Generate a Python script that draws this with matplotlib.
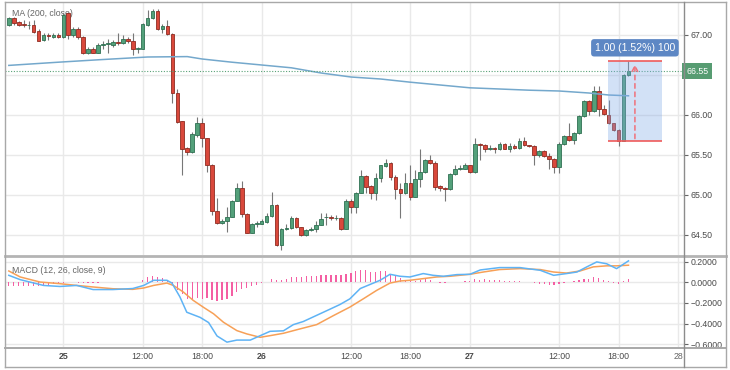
import matplotlib
matplotlib.use("Agg")
import matplotlib.pyplot as plt
from matplotlib.lines import Line2D
from matplotlib.patches import Rectangle
import numpy as np

plt.rcParams['font.family'] = ['Liberation Sans', 'DejaVu Sans']

# 30 minute candles, index 0..125
opens = [67.13, 67.21, 67.16, 67.14, 67.12, 67.12, 67.05, 66.94, 67.00, 66.98,
         67.00, 66.97, 67.28, 67.00, 67.07, 66.97, 66.77, 66.83, 66.78, 66.87,
         66.89, 66.88, 66.91, 66.90, 66.95, 66.93, 66.82, 66.83, 67.13, 67.21,
         67.30, 67.08, 67.11, 67.01, 66.28, 65.92, 65.59, 65.54, 65.75, 65.90,
         65.71, 65.38, 64.80, 64.65, 64.67, 64.73, 64.93, 65.09, 64.76, 64.53,
         64.64, 64.64, 64.66, 64.74, 64.87, 64.37, 64.58, 64.59, 64.71, 64.60,
         64.50, 64.56, 64.58, 64.63, 64.72, 64.73, 64.71, 64.71, 64.58, 64.93,
         64.85, 65.03, 65.24, 65.11, 65.02, 65.21, 65.36, 65.40, 65.23, 65.07,
         65.02, 65.15, 64.98, 65.20, 65.29, 65.44, 65.40, 65.11, 65.09, 65.07,
         65.26, 65.33, 65.33, 65.37, 65.29, 65.64, 65.62, 65.58, 65.59, 65.57,
         65.64, 65.58, 65.61, 65.59, 65.68, 65.62, 65.61, 65.50, 65.55, 65.49,
         65.45, 65.35, 65.64, 65.74, 65.69, 65.77, 65.99, 66.17, 66.05, 66.30,
         66.08, 66.00, 65.90, 65.81, 65.68, 66.50]
highs = [67.23, 67.22, 67.18, 67.19, 67.18, 67.19, 67.07, 67.02, 67.02, 67.02,
         67.02, 67.27, 67.29, 67.10, 67.10, 66.99, 66.85, 66.85, 66.90, 66.92,
         66.95, 66.94, 67.02, 67.00, 66.98, 67.02, 66.85, 67.15, 67.31, 67.33,
         67.33, 67.14, 67.19, 67.02, 66.32, 65.93, 65.60, 65.79, 65.98, 65.96,
         65.71, 65.39, 64.96, 64.70, 64.85, 64.94, 65.15, 65.18, 64.78, 64.65,
         64.67, 64.70, 64.77, 65.04, 64.89, 64.59, 64.64, 64.74, 64.73, 64.60,
         64.57, 64.60, 64.67, 64.77, 64.77, 64.75, 64.75, 64.73, 64.95, 64.95,
         65.04, 65.31, 65.25, 65.12, 65.27, 65.38, 65.45, 65.41, 65.25, 65.15,
         65.27, 65.37, 65.31, 65.58, 65.45, 65.50, 65.42, 65.12, 65.10, 65.27,
         65.37, 65.37, 65.40, 65.38, 65.71, 65.65, 65.64, 65.62, 65.60, 65.66,
         65.65, 65.65, 65.64, 65.71, 65.72, 65.63, 65.62, 65.56, 65.56, 65.52,
         65.46, 65.66, 65.75, 65.90, 65.79, 66.00, 66.19, 66.19, 66.36, 66.36,
         66.12, 66.19, 65.90, 65.83, 66.51, 66.67]
lows = [67.11, 67.13, 67.11, 67.10, 67.07, 67.03, 66.92, 66.92, 66.94, 66.96,
        66.96, 66.96, 66.95, 66.97, 66.95, 66.76, 66.76, 66.77, 66.78, 66.83,
        66.78, 66.85, 66.87, 66.89, 66.90, 66.75, 66.78, 66.82, 67.11, 67.20,
        67.06, 67.02, 67.00, 66.15, 65.90, 65.25, 65.50, 65.53, 65.73, 65.60,
        65.29, 64.75, 64.64, 64.64, 64.54, 64.72, 64.92, 64.72, 64.52, 64.52,
        64.60, 64.64, 64.65, 64.73, 64.36, 64.31, 64.56, 64.58, 64.59, 64.49,
        64.49, 64.55, 64.54, 64.62, 64.63, 64.69, 64.69, 64.56, 64.57, 64.77,
        64.78, 65.02, 65.02, 64.95, 64.94, 65.16, 65.35, 65.19, 64.95, 64.71,
        65.01, 64.94, 64.97, 65.10, 65.28, 65.39, 65.06, 65.05, 64.93, 65.06,
        65.25, 65.31, 65.33, 65.28, 65.28, 65.44, 65.54, 65.56, 65.53, 65.56,
        65.57, 65.54, 65.58, 65.58, 65.61, 65.60, 65.38, 65.48, 65.47, 65.33,
        65.27, 65.28, 65.63, 65.68, 65.64, 65.76, 65.98, 66.00, 66.04, 65.99,
        66.00, 65.89, 65.80, 65.61, 65.67, 66.49]
closes = [67.21, 67.15, 67.13, 67.12, 67.125, 67.04, 66.93, 67.00, 66.985, 67.00,
          66.97, 67.25, 67.00, 67.07, 66.97, 66.77, 66.83, 66.78, 66.87, 66.89,
          66.89, 66.91, 66.90, 66.95, 66.93, 66.82, 66.84, 67.14, 67.21, 67.30,
          67.08, 67.11, 67.01, 66.28, 65.91, 65.58, 65.54, 65.76, 65.90, 65.71,
          65.38, 64.80, 64.65, 64.68, 64.73, 64.93, 65.09, 64.76, 64.53, 64.64,
          64.645, 64.68, 64.74, 64.87, 64.37, 64.58, 64.59, 64.71, 64.60, 64.50,
          64.56, 64.58, 64.63, 64.70, 64.73, 64.71, 64.715, 64.58, 64.93, 64.85,
          65.03, 65.24, 65.10, 65.02, 65.21, 65.37, 65.40, 65.23, 65.07, 65.02,
          65.15, 64.98, 65.20, 65.29, 65.44, 65.40, 65.10, 65.09, 65.07, 65.26,
          65.33, 65.335, 65.37, 65.29, 65.64, 65.63, 65.58, 65.59, 65.57, 65.64,
          65.57, 65.61, 65.59, 65.68, 65.62, 65.61, 65.50, 65.55, 65.49, 65.45,
          65.35, 65.64, 65.74, 65.69, 65.77, 65.99, 66.18, 66.05, 66.30, 66.08,
          66.01, 65.90, 65.81, 65.68, 66.50, 66.55]

# MA(200) read at a few bars
ma_idx = [0, 10, 18, 28, 36, 39, 45, 51, 57, 63, 69, 75, 81, 87, 93, 105, 111, 117, 121, 125]
ma_val = [66.62, 66.66, 66.69, 66.725, 66.73, 66.70, 66.66, 66.625, 66.59, 66.525,
          66.475, 66.45, 66.41, 66.375, 66.34, 66.31, 66.30, 66.275, 66.25, 66.24]

# MACD line and signal read at sample bars
macd_idx = [0, 2.3, 7, 10.3, 13.7, 17, 21, 25, 27.2, 29.2, 31.9, 32.9, 34.5, 35.9, 38.6,
            40.3, 42, 44, 46, 48.7, 52.7, 55.4, 57.4, 59.4, 62.1, 64.8, 66.8, 68.8, 70.9,
            72.9, 74.9, 76.9, 78.9, 80.9, 83.6, 85.6, 87.7, 90.4, 93, 95.1, 99, 103.1,
            105.1, 107.2, 109.9, 112.5, 114.6, 116.6, 118.6, 120.6, 122.6, 125]
macd_val = [0.068, 0.026, -0.03, -0.04, -0.03, -0.07, -0.07, -0.06, -0.03, 0.02, 0.02,
            -0.007, -0.14, -0.29, -0.34, -0.39, -0.52, -0.58, -0.56, -0.56, -0.475,
            -0.47, -0.41, -0.38, -0.32, -0.26, -0.215, -0.16, -0.06, -0.02, 0.02, 0.078,
            0.059, 0.052, 0.085, 0.068, 0.059, 0.075, 0.078, 0.12, 0.143, 0.143, 0.13,
            0.117, 0.068, 0.085, 0.10, 0.15, 0.198, 0.18, 0.133, 0.208]
sig_idx = [0, 2.3, 6.3, 10.3, 13.7, 17, 21, 25, 27.2, 29.2, 31.9, 33.2, 35.2, 37.2, 39.2,
           41.3, 43.3, 46, 48, 50.7, 52.7, 55.4, 58.7, 62.1, 65.5, 68.8, 71.5, 74.2,
           76.9, 78.9, 80.9, 83.6, 86.3, 89, 93, 95.7, 99, 103.1, 107.2, 109.9, 112.5,
           115.2, 117.9, 120.6, 122.6, 125]
sig_val = [0.11, 0.052, 0.003, -0.013, -0.03, -0.045, -0.062, -0.068, -0.055, -0.03,
           -0.007, -0.03, -0.094, -0.175, -0.24, -0.305, -0.387, -0.468, -0.50, -0.533,
           -0.517, -0.494, -0.452, -0.41, -0.322, -0.24, -0.16, -0.078, -0.007, 0.013,
           0.02, 0.036, 0.052, 0.059, 0.078, 0.10, 0.124, 0.133, 0.124, 0.10, 0.09,
           0.11, 0.15, 0.16, 0.16, 0.166]
hist = [-0.04, -0.04, -0.04, -0.038, -0.035, -0.035, -0.035, -0.03, -0.025, -0.02,
        -0.015, -0.005, 0.005, 0.0, -0.003, -0.01, -0.008, -0.005, -0.003, 0.0,
        0.0, 0.003, 0.0, 0.005, 0.005, 0.0, 0.005, 0.026, 0.05, 0.06,
        0.05, 0.04, 0.026, -0.02, -0.07, -0.11, -0.16, -0.16, -0.15, -0.16,
        -0.15, -0.175, -0.18, -0.175, -0.16, -0.13, -0.095, -0.06, -0.055, -0.04,
        -0.03, -0.01, 0.0, 0.03, 0.02, 0.025, 0.03, 0.055, 0.055, 0.055,
        0.06, 0.06, 0.065, 0.07, 0.075, 0.075, 0.075, 0.07, 0.08, 0.09,
        0.11, 0.12, 0.115, 0.10, 0.10, 0.11, 0.11, 0.08, 0.06, 0.04,
        0.02, 0.01, 0.01, 0.02, 0.03, 0.02, 0.005, -0.005, -0.005, 0.0,
        0.005, 0.005, 0.01, 0.01, 0.03, 0.025, 0.03, 0.025, 0.02, 0.02,
        0.015, 0.015, 0.01, 0.01, 0.005, 0.0, -0.01, -0.015, -0.02, -0.025,
        -0.03, -0.02, -0.005, 0.005, 0.01, 0.025, 0.035, 0.035, 0.05, 0.04,
        0.025, 0.01, -0.005, -0.02, 0.01, 0.03]

tick_pos = [11, 27, 39, 51, 69, 81, 93, 111, 123, 135]
tick_lab = ['25', '12:00', '18:00', '26', '12:00', '18:00', '27', '12:00', '18:00', '28']
price_ticks = [64.5, 65.0, 65.5, 66.0, 66.5, 67.0]
macd_ticks = [-0.6, -0.4, -0.2, 0.0, 0.2]
last_price = 66.55
measure_lo, measure_hi = 65.67, 66.67

W, H = 730, 370
fig = plt.figure(figsize=(7.3, 3.7), dpi=100)
fig.patch.set_facecolor('white')

def fx(px):
    return px / W

def fy(py):
    return 1 - py / H

ax = fig.add_axes([fx(5), fy(255), fx(679), (255 - 2) / H])
ax2 = fig.add_axes([fx(5), fy(347), fx(679), (347 - 258) / H])

grid_c = '#e9e9e9'
txt_c = '#4a4a4a'
up_c, up_e = '#53a07a', '#2f7052'
dn_c, dn_e = '#d9483b', '#8f2c22'

xlim = (-0.77, 136.2)
for a in (ax, ax2):
    a.set_xlim(*xlim)
    for s in a.spines.values():
        s.set_visible(False)
    a.yaxis.tick_right()
    a.tick_params(axis='y', length=3, width=0.8, color='#666', labelsize=6.3,
                  labelcolor=txt_c, pad=2)
    a.set_xticks(tick_pos)
    a.tick_params(axis='x', length=0, labelbottom=False)
    for t in tick_pos:
        a.axvline(t, color=grid_c, lw=1, zorder=0)

ax.set_ylim(64.25, 67.4125)
ax.set_yticks(price_ticks)
ax.set_yticklabels(['%.2f' % v for v in price_ticks])
for v in price_ticks:
    ax.axhline(v, color=grid_c, lw=1, zorder=0)

ax2.set_ylim(-0.627, 0.236)
ax2.set_yticks(macd_ticks)
ax2.set_yticklabels(['%.4f' % v if v >= 0 else '\u2212%.4f' % -v for v in macd_ticks])
for v in macd_ticks:
    ax2.axhline(v, color=grid_c, lw=1, zorder=0)

# candles
idx = np.arange(len(opens))
o = np.array(opens); c = np.array(closes)
up = c >= o
ax.vlines(idx, lows, highs, color='#777777', lw=0.8, zorder=2)
body = np.maximum(np.abs(c - o), 0.008)
ax.bar(idx[up], body[up], bottom=o[up], width=0.74, color=up_c, edgecolor=up_e,
       linewidth=0.6, zorder=3)
ax.bar(idx[~up], body[~up], bottom=c[~up], width=0.74, color=dn_c, edgecolor=dn_e,
       linewidth=0.6, zorder=3)

ax.plot(ma_idx, ma_val, color='#74a8cc', lw=1.1, zorder=4)
ax.axhline(last_price, color='#5aa277', lw=0.8, ls=(0, (1, 1.5)), zorder=4)

ax.text(0.01, 0.955, 'MA (200, close)', transform=ax.transAxes, fontsize=6.3,
        color='#666', va='center', ha='left', zorder=1)

# measure box
x0, x1, xm = 120.9, 131.7, 126.3
ax.add_patch(Rectangle((x0, measure_lo), x1 - x0, measure_hi - measure_lo,
                       facecolor='#7fa9e6', alpha=0.35, edgecolor='none', zorder=5))
ax.hlines([measure_lo, measure_hi], x0, x1, color='#ef5b5b', lw=1.2, zorder=6)
ax.annotate('', xy=(xm, measure_hi), xytext=(xm, measure_lo),
            arrowprops=dict(arrowstyle='->', color='#f0707a', lw=1.1, ls=(0, (3, 2.5))),
            zorder=6)
ax.text(xm, 66.84, '1.00 (1.52%) 100', ha='center', va='center', fontsize=7.6,
        color='white', zorder=7,
        bbox=dict(boxstyle='round,pad=0.35,rounding_size=0.3', fc='#5d87c4', ec='none'))

# last price tag (covers the 66.50 tick label, as in the original)
ax.annotate('66.55', xy=(1.0, last_price), xycoords=('axes fraction', 'data'),
            xytext=(1.5, 0), textcoords='offset points', ha='left', va='center',
            fontsize=6.3, color='white', annotation_clip=False, zorder=8,
            bbox=dict(boxstyle='square,pad=0.45', fc='#579c72', ec='none'))

# MACD pane
ax2.bar(idx, hist, width=0.26, color='#f45fa3', zorder=2)
ax2.plot(sig_idx, sig_val, color='#f7a057', lw=1.1, zorder=3)
ax2.plot(macd_idx, macd_val, color='#5eb3f5', lw=1.1, zorder=4)
ax2.text(0.01, 0.86, 'MACD (12, 26, close, 9)', transform=ax2.transAxes, fontsize=6.3,
         color='#666', va='center', ha='left')

# time labels
for t, lab in zip(tick_pos, tick_lab):
    bold = lab in ('25', '26', '27')
    ax2.text(t, -0.06, lab, transform=ax2.get_xaxis_transform(), ha='center',
             va='top', fontsize=6.3, color=txt_c if lab != '28' else '#666',
             fontweight='bold' if bold else 'normal', clip_on=False)

# frame lines
def hline(py, c='#a8a8a8', lw=1.0, x_a=5, x_b=726):
    fig.add_artist(Line2D([fx(x_a), fx(x_b)], [fy(py), fy(py)], color=c, lw=lw))

def vline(px, c='#a8a8a8', lw=1.0, y_a=2, y_b=367):
    fig.add_artist(Line2D([fx(px), fx(px)], [fy(y_a), fy(y_b)], color=c, lw=lw))

hline(2)
hline(367)
hline(256, c='#b4b4b4', lw=2.0)
hline(347.5, c='#a8a8a8', lw=1.4)
vline(5)
vline(726)
vline(684, c='#8c8c8c', lw=1.0)

fig.savefig('out.png', dpi=100)
